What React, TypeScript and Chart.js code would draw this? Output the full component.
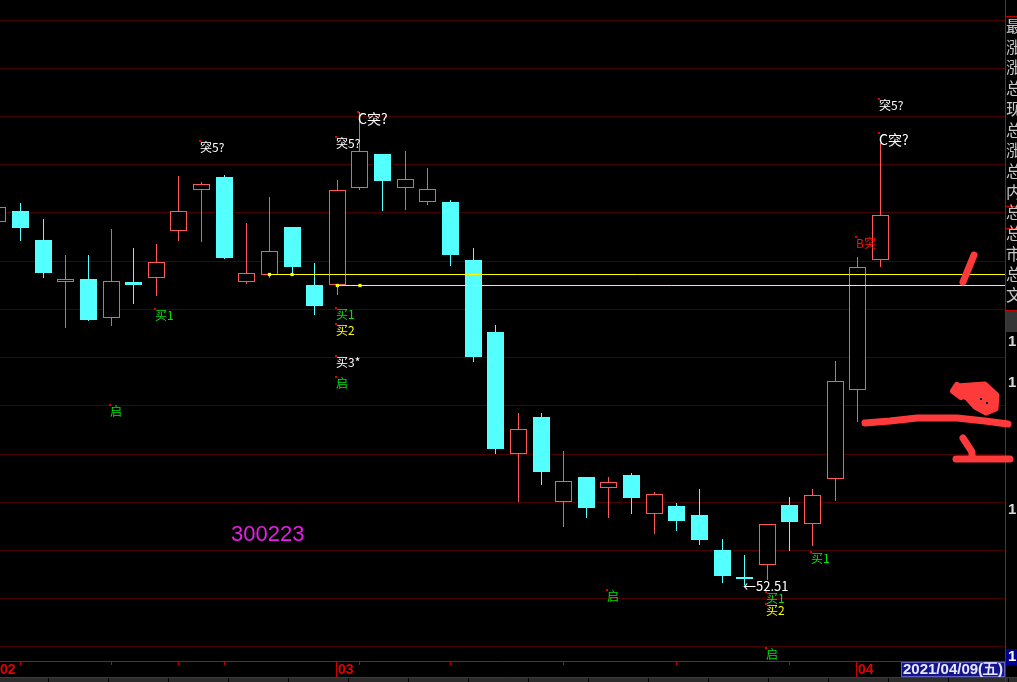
import React, { useEffect, useRef } from "react";
import { Chart, registerables } from "chart.js";

Chart.register(...registerables);

// ---- data ----
const DATES = [
  "2021-02-01", "2021-02-02", "2021-02-03", "2021-02-04", "2021-02-05",
  "2021-02-08", "2021-02-09", "2021-02-10", "2021-02-18", "2021-02-19",
  "2021-02-22", "2021-02-23", "2021-02-24", "2021-02-25", "2021-02-26",
  "2021-03-01", "2021-03-02", "2021-03-03", "2021-03-04", "2021-03-05",
  "2021-03-08", "2021-03-09", "2021-03-10", "2021-03-11", "2021-03-12",
  "2021-03-15", "2021-03-16", "2021-03-17", "2021-03-18", "2021-03-19",
  "2021-03-22", "2021-03-23", "2021-03-24", "2021-03-25", "2021-03-26",
  "2021-03-29", "2021-03-30", "2021-03-31", "2021-04-01", "2021-04-02",
];
const OPEN = [
  88.84, 89.91, 87.01, 82.84, 83.11, 79.24, 82.81, 83.24, 87.94, 92.04,
  93.31, 82.84, 83.54, 88.31, 82.51, 82.48, 92.24, 95.61, 92.24, 90.84,
  90.81, 85.01, 77.81, 65.64, 69.31, 60.84, 63.31, 62.24, 63.51, 59.64,
  60.41, 59.51, 56.01, 53.31, 54.51, 60.51, 58.61, 63.14, 71.98, 84.98,
];
const CLOSE = [
  90.31, 88.21, 83.74, 83.08, 79.01, 82.91, 82.51, 84.81, 89.91, 92.61,
  85.21, 83.71, 85.91, 84.31, 80.41, 92.01, 95.91, 92.94, 93.11, 92.11,
  85.51, 75.31, 66.11, 68.11, 63.81, 62.91, 60.21, 62.81, 61.21, 61.61,
  58.91, 57.01, 53.41, 53.11, 58.61, 58.81, 61.51, 72.88, 84.28, 89.48,
];
const HIGH = [
  90.5, 90.71, 89.11, 85.51, 85.51, 88.11, 86.21, 86.61, 93.41, 92.81,
  93.51, 88.71, 91.31, 88.31, 84.71, 93.01, 99.78, 95.61, 95.91, 94.21,
  91.01, 86.21, 78.51, 69.71, 69.71, 65.91, 63.31, 63.31, 63.71, 61.81,
  60.71, 62.11, 57.11, 55.51, 58.61, 61.31, 62.11, 74.88, 85.31, 96.68,
];
const LOW = [
  88.6, 86.94, 83.24, 78.24, 78.94, 78.44, 80.64, 81.44, 86.94, 86.84,
  85.11, 82.64, 83.24, 83.54, 79.54, 81.51, 92.01, 89.94, 90.04, 90.54,
  84.44, 74.81, 65.61, 60.81, 62.51, 58.31, 59.21, 59.21, 59.61, 57.61,
  57.91, 56.51, 52.71, 52.51, 53.01, 55.91, 56.41, 60.91, 68.78, 84.28,
];

// horizontal support lines (start date, level) and marker dates
const LINE_STARTS = ["2021-02-24", "2021-03-01"];
const LINE_LEVELS = [83.56, 82.46];
const LINE_MARKS = [["2021-02-24", "2021-02-25"], ["2021-03-01", "2021-03-02"]];

const GRID_LEVELS = [
  109.04, 104.22, 99.4, 94.58, 89.76, 84.94, 80.12, 75.3, 70.48, 65.66,
  60.84, 56.02, 51.2, 46.38,
];
const TICK_DATES = [
  "2021-02-02", "2021-02-08", "2021-02-18", "2021-02-22", "2021-03-02",
  "2021-03-08", "2021-03-15", "2021-03-22", "2021-03-29",
];
const MONTH_DATES = ["2021-02-01", "2021-03-01", "2021-04-01"];
const MONTH_LABELS = ["02", "03", "04"];
const CURSOR_LABEL = "2021/04/09(五)";
const STOCK_CODE = "300223";

const LABEL_TEXTS = [
  "突5?", "买1", "启", "C突?", "突5?", "买1", "买2", "买3*", "启",
  "买1", "买2", "启", "启", "买1", "突5?", "C突?", "B突",
];
const LABEL_DATES = [
  "2021-02-19", "2021-02-10", "2021-02-08", "2021-03-02", "2021-03-01",
  "2021-03-01", "2021-03-01", "2021-03-01", "2021-03-01",
  "2021-03-26", "2021-03-26", "2021-03-26", "2021-03-17", "2021-03-30",
  "2021-04-02", "2021-04-02", "2021-04-01",
];
const LABEL_VALUES = [
  96.91, 80.11, 70.51, 99.81, 97.28, 80.18, 78.58, 75.44, 73.31,
  51.78, 50.58, 46.24, 52.01, 55.78, 101.08, 97.68, 87.28,
];
const LABEL_COLORS = [
  "#ffffff", "#00e600", "#00e600", "#ffffff", "#ffffff", "#00e600", "#ffff00",
  "#ffffff", "#00e600", "#00e600", "#ffff00", "#00e600", "#00e600", "#00e600",
  "#ffffff", "#ffffff", "#ff1010",
];
const LOW_MARK_DATE = "2021-03-25";
const LOW_MARK_TEXT = "←52.51";

const PANEL_CHARS = ["最", "涨", "涨", "总", "现", "总", "涨", "总", "内", "总", "总", "市", "总", "文"];
const PANEL_NUMS = ["1", "1", "1"];

// ---- styles ----
const RED = "#ff5858";
const CYAN = "#54ffff";
const GRID = "#480000";
const AXIS_RED = "#c80000";

const idx = (d: string) => DATES.indexOf(d);

// snap candle elements to whole pixels (the original is a pixel-aligned terminal chart)
const snap = {
  id: "snap",
  afterDatasetsUpdate(chart: any) {
    chart.data.datasets.forEach((ds: any, i: number) => {
      if (ds.type !== "bar") return;
      const meta = chart.getDatasetMeta(i);
      meta.data.forEach((el: any) => {
        el.x = Math.floor(el.x) + 0.5;
        el.y = Math.round(el.y);
        el.base = Math.round(el.base);
      });
    });
  },
};

const decor = {
  id: "decor",
  beforeDraw(chart: any) {
    const { ctx, width, height } = chart;
    ctx.save();
    ctx.fillStyle = "#000";
    ctx.fillRect(0, 0, width, height);
    ctx.restore();
  },
  beforeDatasetsDraw(chart: any) {
    const { ctx, chartArea } = chart;
    const ys = chart.scales.y;
    ctx.save();
    ctx.strokeStyle = GRID;
    ctx.lineWidth = 1;
    for (const v of GRID_LEVELS) {
      const y = Math.round(ys.getPixelForValue(v)) + 0.5;
      ctx.beginPath();
      ctx.moveTo(chartArea.left, y);
      ctx.lineTo(chartArea.right, y);
      ctx.stroke();
    }
    ctx.restore();
  },
  afterDatasetsDraw(chart: any) {
    const { ctx } = chart;
    const xs = chart.scales.x;
    const ys = chart.scales.y;
    ctx.save();
    ctx.textBaseline = "top";
    ctx.textAlign = "left";
    for (let i = 0; i < LABEL_TEXTS.length; i++) {
      const x = Math.floor(xs.getPixelForValue(idx(LABEL_DATES[i])));
      const y = Math.round(ys.getPixelForValue(LABEL_VALUES[i]));
      ctx.fillStyle = "#e00000";
      ctx.fillRect(x - 2, y - 1, 2, 2);
      const big = LABEL_TEXTS[i].startsWith("C");
      ctx.font = (big ? "14px" : "12px") + ' "Noto Sans CJK SC"';
      ctx.fillStyle = LABEL_COLORS[i];
      ctx.fillText(LABEL_TEXTS[i], x - 1, y);
    }
    // low price mark
    const li = idx(LOW_MARK_DATE);
    ctx.textBaseline = "middle";
    ctx.font = '13px "Noto Sans CJK SC"';
    ctx.fillStyle = "#ffffff";
    ctx.fillText(LOW_MARK_TEXT, Math.floor(xs.getPixelForValue(li)) - 1, Math.round(ys.getPixelForValue(LOW[li])) + 1);
    // stock code
    ctx.font = '22px "Liberation Sans"';
    ctx.fillStyle = "#e61ee6";
    ctx.fillText(STOCK_CODE, chart.chartArea.left + 231, chart.chartArea.top + 535);
    ctx.restore();
  },
  afterDraw(chart: any) {
    const { ctx, chartArea, width, height } = chart;
    const xs = chart.scales.x;
    const base = chartArea.bottom;
    const R = chartArea.right;
    ctx.save();
    // bottom axis
    ctx.strokeStyle = AXIS_RED;
    ctx.lineWidth = 1;
    ctx.beginPath();
    ctx.moveTo(0, base + 0.5);
    ctx.lineTo(R, base + 0.5);
    ctx.stroke();
    for (const d of TICK_DATES) {
      const x = Math.floor(xs.getPixelForValue(idx(d))) + 0.5;
      ctx.beginPath();
      ctx.moveTo(x, base);
      ctx.lineTo(x, base + 4);
      ctx.stroke();
    }
    ctx.font = 'bold 14px "Liberation Sans"';
    ctx.textBaseline = "middle";
    ctx.fillStyle = "#e00000";
    for (let i = 0; i < MONTH_DATES.length; i++) {
      const x = Math.max(0, Math.floor(xs.getPixelForValue(idx(MONTH_DATES[i]))));
      if (x > 0) {
        ctx.beginPath();
        ctx.moveTo(x - 0.5, base);
        ctx.lineTo(x - 0.5, base + 16);
        ctx.stroke();
      }
      ctx.fillText(MONTH_LABELS[i], x + (x > 0 ? 1 : 0), base + 9);
    }
    // cursor date box
    ctx.fillStyle = "#14148c";
    ctx.fillRect(901, base + 1, R - 901, 15);
    ctx.strokeStyle = "#6060c0";
    ctx.strokeRect(901.5, base + 1.5, R - 902, 14);
    ctx.fillStyle = "#e8e8ff";
    ctx.font = 'bold 15px "Liberation Sans"';
    ctx.fillText(CURSOR_LABEL, 903, base + 9);
    // bottom tab strip
    ctx.strokeStyle = AXIS_RED;
    ctx.beginPath();
    ctx.moveTo(0, base + 16.5);
    ctx.lineTo(width, base + 16.5);
    ctx.stroke();
    ctx.fillStyle = "#2c2c2c";
    ctx.fillRect(0, base + 17, width, height - base - 17);
    ctx.fillStyle = "#000";
    for (let x = 48; x < width; x += 60) ctx.fillRect(x, base + 17, 1, height - base - 17);
    // right panel
    ctx.strokeStyle = AXIS_RED;
    ctx.beginPath();
    ctx.moveTo(R + 0.5, 0);
    ctx.lineTo(R + 0.5, height);
    ctx.stroke();
    for (const y of [16, 206, 228, 249, 310]) {
      ctx.beginPath();
      ctx.moveTo(R, y + 0.5);
      ctx.lineTo(width, y + 0.5);
      ctx.stroke();
    }
    ctx.font = '16px "Noto Sans CJK SC"';
    ctx.fillStyle = "#c8c8c8";
    ctx.textBaseline = "middle";
    PANEL_CHARS.forEach((c, i) => ctx.fillText(c, R + 1, 26 + i * 20.7));
    ctx.fillStyle = "#353535";
    ctx.fillRect(R + 1, 311, width - R - 1, 21);
    ctx.font = 'bold 15px "Liberation Sans"';
    ctx.fillStyle = "#d8d8d8";
    [342, 383, 510].forEach((y, i) => ctx.fillText(PANEL_NUMS[i], R + 3, y));
    ctx.fillStyle = "#000090";
    ctx.fillRect(R + 1, 649, width - R - 1, 16);
    ctx.fillStyle = "#ffffff";
    ctx.fillText("1", R + 3, 657);
    // hand-drawn marks
    ctx.strokeStyle = "#ff3a3a";
    ctx.fillStyle = "#ff3a3a";
    ctx.lineCap = "round";
    ctx.lineJoin = "round";
    ctx.lineWidth = 7;
    const path = (pts: number[][]) => {
      ctx.beginPath();
      ctx.moveTo(pts[0][0], pts[0][1]);
      for (let i = 1; i < pts.length; i++) ctx.lineTo(pts[i][0], pts[i][1]);
      ctx.stroke();
    };
    path([[974, 255], [963, 282]]);
    path([[865, 423], [890, 421], [917, 418], [957, 418], [985, 421], [1008, 424]]);
    ctx.beginPath();
    const blob = [[956, 386], [985, 384], [997, 395], [996, 409], [986, 413], [975, 407], [967, 398], [961, 396]];
    ctx.moveTo(blob[0][0], blob[0][1]);
    for (const p of blob.slice(1)) ctx.lineTo(p[0], p[1]);
    ctx.closePath();
    ctx.fill();
    ctx.lineWidth = 5;
    ctx.stroke();
    ctx.lineWidth = 6;
    path([[961, 397], [953, 391], [957, 385]]);
    ctx.lineWidth = 7;
    path([[963, 438], [972, 452], [972, 458]]);
    path([[956, 459], [1010, 459]]);
    ctx.fillStyle = "#000";
    ctx.fillRect(980, 398, 2, 2);
    ctx.fillRect(986, 402, 2, 2);
    ctx.restore();
  },
};

export default function App() {
  const ref = useRef<HTMLCanvasElement>(null);
  useEffect(() => {
    const up = DATES.map((_, i) => CLOSE[i] >= OPEN[i]);
    const bodies = DATES.map((_, i) => ({ x: i, y: [Math.min(OPEN[i], CLOSE[i]), Math.max(OPEN[i], CLOSE[i])] }));
    const wicks = DATES.map((_, i) => ({ x: i, y: [LOW[i], HIGH[i]] }));
    const lastX = DATES.length + 4.5;
    const lineSets: any[] = LINE_LEVELS.map((lv, i) => ({
      type: "line",
      data: [{ x: idx(LINE_STARTS[i]), y: lv }, { x: lastX, y: lv }],
      borderColor: "#ffff00",
      borderWidth: 1,
      pointRadius: 0,
      order: 0,
    }));
    const markSets: any[] = LINE_LEVELS.map((lv, i) => ({
      type: "scatter",
      data: LINE_MARKS[i].map((d) => ({ x: idx(d), y: lv })),
      backgroundColor: "#ffff00",
      borderWidth: 0,
      pointStyle: "rect",
      pointRadius: 2.3,
      order: 0,
    }));
    const chart = new Chart(ref.current as HTMLCanvasElement, {
      type: "bar",
      data: {
        datasets: [
          {
            type: "bar",
            data: wicks as any,
            backgroundColor: up.map((u) => (u ? RED : CYAN)),
            borderWidth: 0,
            barThickness: 1,
            grouped: false,
            inflateAmount: 0,
            order: 2,
          } as any,
          {
            type: "bar",
            data: bodies as any,
            backgroundColor: up.map((u) => (u ? "#000000" : CYAN)),
            borderColor: up.map((u) => (u ? RED : CYAN)),
            borderWidth: up.map((u) => (u ? 1 : 0)),
            borderSkipped: false,
            barThickness: 17,
            grouped: false,
            inflateAmount: 0,
            order: 1,
          } as any,
          ...lineSets,
          ...markSets,
        ],
      },
      options: {
        responsive: false,
        animation: false,
        devicePixelRatio: 1,
        layout: { autoPadding: false, padding: { left: 0, right: 12, top: 0, bottom: 21 } },
        scales: {
          x: { type: "linear", min: 0.094, max: 44.5, display: false, offset: false, grid: { offset: false } },
          y: { type: "linear", min: 44.91, max: 111.01, display: false, offset: false },
        },
        plugins: { legend: { display: false }, tooltip: { enabled: false } },
        events: [],
      } as any,
      plugins: [snap, decor],
    });
    return () => chart.destroy();
  }, []);
  return (
    <div style={{ position: "fixed", left: 0, top: 0, width: 1017, height: 682, background: "#000" }}>
      <canvas ref={ref} width={1017} height={682} style={{ display: "block" }} />
    </div>
  );
}
